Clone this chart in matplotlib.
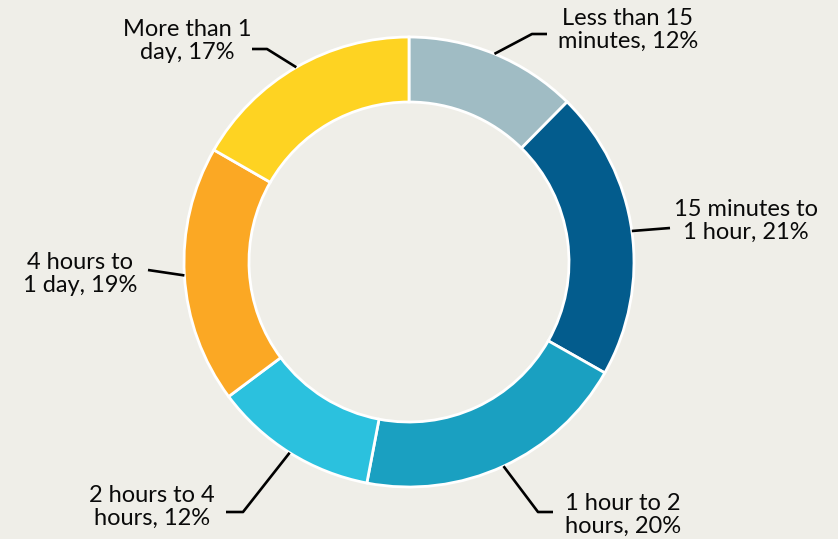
import matplotlib
matplotlib.use("Agg")
import matplotlib.pyplot as plt
import numpy as np

categories = ["Less than 15\nminutes", "15 minutes to\n1 hour", "1 hour to 2\nhours",
              "2 hours to 4\nhours", "4 hours to\n1 day", "More than 1\nday"]
shares = [12.4, 20.8, 19.8, 11.8, 18.5, 16.7]
labels_pct = [12, 21, 20, 12, 19, 17]
colors = ["#A0BCC4", "#035C8D", "#1AA0C1", "#2BC1DE", "#FBA824", "#FED322"]

W, H = 838, 539
bg = "#EFEEE8"
fig = plt.figure(figsize=(W / 100, H / 100), dpi=100, facecolor=bg)
ax = fig.add_axes([0, 0, 1, 1])
ax.set_facecolor(bg)
ax.axis("off")

cx, cy = 409, H - 262
R = 225
wedges, _ = ax.pie(shares, colors=colors, startangle=90, counterclock=False,
                   center=(cx, cy), radius=R,
                   wedgeprops=dict(width=65, edgecolor="white", linewidth=2))
ax.set_xlim(0, W)
ax.set_ylim(0, H)
ax.set_aspect("equal")

# leader-line layout (pixel coords, y down): elbow (or None), end, text center
layout = [
    ((532, 34), (547, 34), (628, 30)),
    (None, (670, 228), (746, 221)),
    ((538, 512), (553, 512), (623, 515)),
    ((243, 512), (226, 512), (152, 507)),
    (None, (148, 270), (80, 274)),
    ((267, 49), (252, 49), (187, 41)),
]

for w, cat, p, (elbow, end, tc) in zip(wedges, categories, labels_pct, layout):
    ang = np.deg2rad((w.theta1 + w.theta2) / 2)
    sx, sy = cx + R * np.cos(ang), cy + R * np.sin(ang)
    pts = [(sx, sy)]
    if elbow is not None:
        pts.append((elbow[0], H - elbow[1]))
    pts.append((end[0], H - end[1]))
    xs, ys = zip(*pts)
    ax.plot(xs, ys, color="black", lw=1.9, solid_capstyle="butt", zorder=1)
    ax.text(tc[0], H - tc[1], f"{cat}, {p}%", ha="center", va="center",
            fontsize=17, family="Lato", color="#0a0a0a", linespacing=1.1)

fig.savefig("out.png", dpi=100, facecolor=bg)
